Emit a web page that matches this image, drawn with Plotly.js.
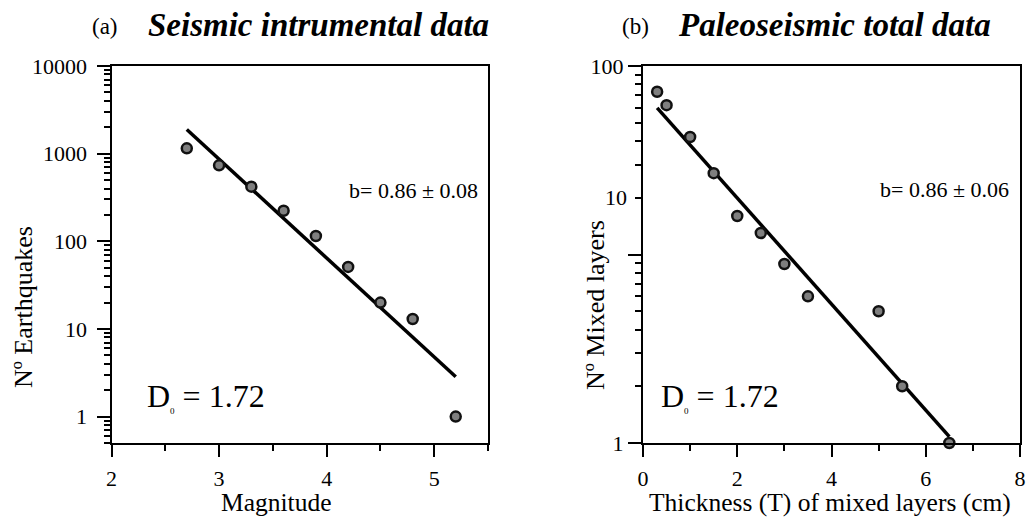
<!DOCTYPE html>
<html>
<head>
<meta charset="utf-8">
<script src="https://cdn.plot.ly/plotly-3.0.1.min.js"></script>
<style>html,body{margin:0;padding:0;background:#fff;}#chart{width:1026px;height:517px;}</style>
</head>
<body>
<div id="chart"></div>
<script>
// ---- Data ----
const magnitude = [2.7, 3.0, 3.3, 3.6, 3.9, 4.2, 4.5, 4.8, 5.2];
const nEarthquakes = [1150, 735, 420, 223, 115, 51, 20, 13, 1];
const fitAx = [2.7, 5.2];
const fitAy = [1890, 2.85];

const thickness = [0.3, 0.5, 1.0, 1.5, 2.0, 2.5, 3.0, 3.5, 5.0, 5.5, 6.5];
const nLayers = [73, 62, 42, 27, 16, 13, 8.9, 6, 5, 2, 1];
const fitBx = [0.3, 6.5];
const fitBy = [60, 1.08];

const yTickValsA = [1, 10, 100, 1000, 10000];
const yTickTextA = ['1', '10', '100', '1000', '10000'];
const yTickValsB = [1, 10, 100];
const yTickTextB = ['1', ' ', '100'];
const titleA = 'Seismic intrumental data';
const titleB = 'Paleoseismic total data';
const bTextA = 'b= 0.86 \u00b1 0.08';
const bTextB = 'b= 0.86 \u00b1 0.06';

// ---- Helpers ----
const W = 1026, H = 517;
const px = v => v / W;
const py = v => 1 - v / H;
const FONT = 'Liberation Serif';
const TICKSIZE = 22;

function minorLog(lo, hi) {
  const out = [];
  for (let e = -1; e <= 4; e++) {
    for (let k = 2; k <= 9; k++) {
      const v = k * Math.pow(10, e);
      if (v >= lo - 1e-9 && v <= hi + 1e-9) out.push(v);
    }
  }
  return out;
}

const markerStyle = {size: 10, color: '#7f7f7f', line: {color: '#111', width: 2.5}};
const lineStyle = {color: '#000', width: 3.5};

const traces = [
  {x: fitAx, y: fitAy, xaxis: 'x', yaxis: 'y', mode: 'lines', line: lineStyle, cliponaxis: false, hoverinfo: 'skip'},
  {x: magnitude, y: nEarthquakes, xaxis: 'x', yaxis: 'y', mode: 'markers', marker: markerStyle, cliponaxis: false},
  {x: fitBx, y: fitBy, xaxis: 'x2', yaxis: 'y2', mode: 'lines', line: lineStyle, cliponaxis: false, hoverinfo: 'skip'},
  {x: thickness, y: nLayers, xaxis: 'x2', yaxis: 'y2', mode: 'markers', marker: markerStyle, cliponaxis: false}
];

function axBase(extra) {
  return Object.assign({
    showgrid: false, zeroline: false, showline: true, linecolor: '#000', linewidth: 2, mirror: true,
    ticks: 'outside', tickcolor: '#000', tickwidth: 2, ticklen: 12,
    tickfont: {family: FONT, size: TICKSIZE, color: '#000'}
  }, extra);
}

const layout = {
  width: W, height: H,
  margin: {l: 0, r: 0, t: 0, b: 0},
  paper_bgcolor: '#fff', plot_bgcolor: '#fff',
  font: {family: FONT, size: 22, color: '#000'},
  showlegend: false,
  xaxis: axBase({
    domain: [px(111.5), px(488)], anchor: 'y', range: [2, 5.5],
    tickmode: 'linear', tick0: 0, dtick: 1, ticklabelstandoff: 3,
    minor: {ticks: 'outside', tickmode: 'linear', tick0: 0, dtick: 0.5, ticklen: 6, tickwidth: 2, tickcolor: '#000', showgrid: false}
  }),
  yaxis: axBase({
    domain: [74 / H, 451 / H], anchor: 'x', type: 'log', range: [Math.log10(0.5), 4],
    tickmode: 'array', tickvals: yTickValsA, ticktext: yTickTextA, ticklen: 13, ticklabelstandoff: 5,
    minor: {ticks: 'outside', tickmode: 'array', tickvals: minorLog(0.5, 10000), ticklen: 6, tickwidth: 2, tickcolor: '#000', showgrid: false}
  }),
  xaxis2: axBase({
    domain: [px(643), px(1020)], anchor: 'y2', range: [0, 8],
    tickmode: 'linear', tick0: 0, dtick: 2, ticklabelstandoff: 3,
    minor: {ticks: 'outside', tickmode: 'linear', tick0: 0, dtick: 1, ticklen: 6, tickwidth: 2, tickcolor: '#000', showgrid: false}
  }),
  yaxis2: axBase({
    domain: [74 / H, 451 / H], anchor: 'x2', type: 'log', range: [0, 2],
    tickmode: 'array', tickvals: yTickValsB, ticktext: yTickTextB, ticklen: 13, ticklabelstandoff: 0,
    minor: {ticks: 'outside', tickmode: 'array', tickvals: minorLog(1, 100), ticklen: 6, tickwidth: 2, tickcolor: '#000', showgrid: false}
  }),
  annotations: [
    // panel titles
    {xref: 'paper', yref: 'paper', x: px(90), y: py(27), xanchor: 'left', yanchor: 'middle', showarrow: false,
     text: '(a)', font: {family: FONT, size: 23, color: '#000'}},
    {xref: 'paper', yref: 'paper', x: px(146), y: py(25), xanchor: 'left', yanchor: 'middle', showarrow: false,
     text: '<b><i>' + titleA + '</i></b>', font: {family: FONT, size: 33, color: '#000'}},
    {xref: 'paper', yref: 'paper', x: px(620), y: py(27), xanchor: 'left', yanchor: 'middle', showarrow: false,
     text: '(b)', font: {family: FONT, size: 23, color: '#000'}},
    {xref: 'paper', yref: 'paper', x: px(676), y: py(25), xanchor: 'left', yanchor: 'middle', showarrow: false,
     text: '<b><i>' + titleB + '</i></b>', font: {family: FONT, size: 33, color: '#000'}},
    // axis titles
    {xref: 'paper', yref: 'paper', x: px(276), y: py(502), xanchor: 'center', yanchor: 'middle', showarrow: false,
     text: 'Magnitude', font: {family: FONT, size: 25.5, color: '#000'}},
    {xref: 'paper', yref: 'paper', x: px(830), y: py(502), xanchor: 'center', yanchor: 'middle', showarrow: false,
     text: 'Thickness (T) of mixed layers (cm)', font: {family: FONT, size: 25.5, color: '#000'}},
    {xref: 'paper', yref: 'paper', x: px(23), y: py(307), xanchor: 'center', yanchor: 'middle', showarrow: false, textangle: -90,
     text: 'N\u00ba Earthquakes', font: {family: FONT, size: 26, color: '#000'}},
    {xref: 'paper', yref: 'paper', x: px(595), y: py(305), xanchor: 'center', yanchor: 'middle', showarrow: false, textangle: -90,
     text: 'N\u00ba Mixed layers', font: {family: FONT, size: 26, color: '#000'}},
    // the "10" label as drawn in the reference (beside the 20 tick)
    {xref: 'paper', yref: 'y2', x: px(629), y: Math.log10(20), xanchor: 'right', yanchor: 'middle', showarrow: false,
     text: '10', font: {family: FONT, size: TICKSIZE, color: '#000'}},
    // b-values
    {xref: 'paper', yref: 'paper', x: px(347), y: py(190), xanchor: 'left', yanchor: 'middle', showarrow: false,
     text: bTextA, font: {family: FONT, size: 22, color: '#000'}},
    {xref: 'paper', yref: 'paper', x: px(878), y: py(189), xanchor: 'left', yanchor: 'middle', showarrow: false,
     text: bTextB, font: {family: FONT, size: 22, color: '#000'}},
    // D0 labels
    {xref: 'paper', yref: 'paper', x: px(145), y: py(397), xanchor: 'left', yanchor: 'middle', showarrow: false,
     text: 'D<sub><span style="font-size:9px">0</span></sub> = 1.72', font: {family: FONT, size: 32, color: '#000'}},
    {xref: 'paper', yref: 'paper', x: px(659), y: py(397), xanchor: 'left', yanchor: 'middle', showarrow: false,
     text: 'D<sub><span style="font-size:9px">0</span></sub> = 1.72', font: {family: FONT, size: 32, color: '#000'}}
  ]
};

Plotly.newPlot('chart', traces, layout, {staticPlot: true, displayModeBar: false});
</script>
</body>
</html>
